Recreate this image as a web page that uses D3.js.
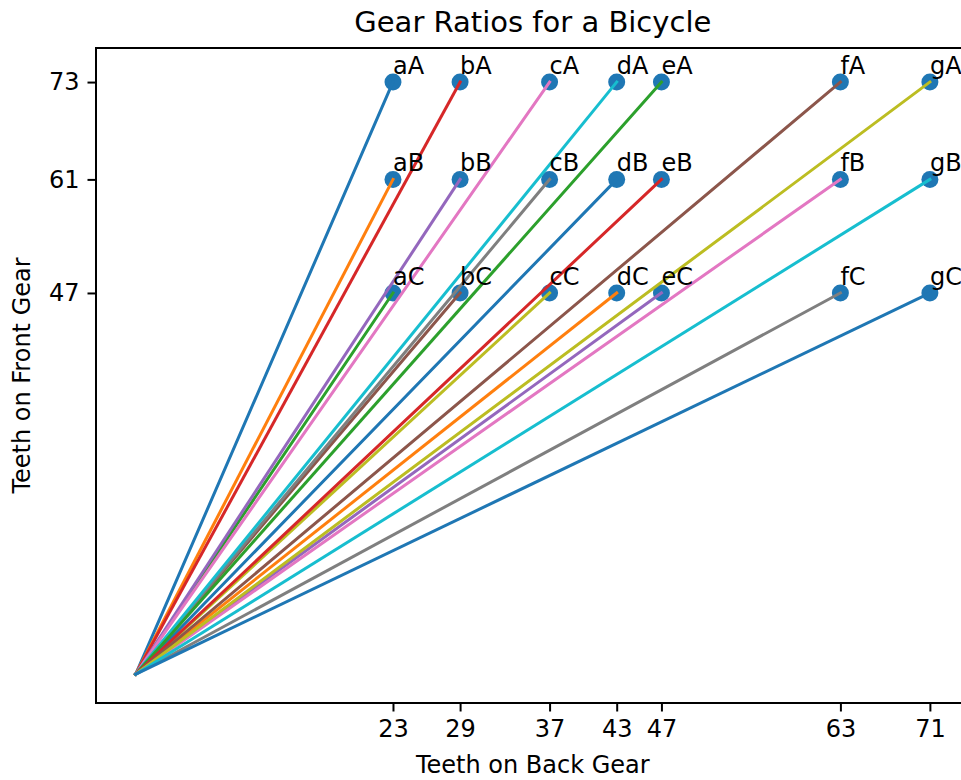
<!DOCTYPE html>
<html>
<head>
<meta charset="utf-8">
<script src="https://cdn.jsdelivr.net/npm/d3@7"></script>
<style>
  html, body { margin: 0; padding: 0; background: #fff; }
  svg { display: block; font-family: "DejaVu Sans", sans-serif; }
</style>
</head>
<body>
<svg id="chart" width="961" height="780"></svg>
<script>
// ---- data ----
const backGears = [23, 29, 37, 43, 47, 63, 71];
const backLabels = ["a", "b", "c", "d", "e", "f", "g"];
const frontGears = [73, 61, 47];
const frontLabels = ["A", "B", "C"];
const xTicks = [23, 29, 37, 43, 47, 63, 71];
const yTicks = [47, 61, 73];
const colors = ["#1f77b4", "#ff7f0e", "#2ca02c", "#d62728", "#9467bd",
                "#8c564b", "#e377c2", "#7f7f7f", "#bcbd22", "#17becf"];
const titleText = "Gear Ratios for a Bicycle";
const xLabelText = "Teeth on Back Gear";
const yLabelText = "Teeth on Front Gear";

(function () {
  // build combinations
  const combos = [];
  backGears.forEach((b, i) => {
    frontGears.forEach((f, j) => {
      combos.push({ back: b, front: f, label: backLabels[i] + frontLabels[j] });
    });
  });

  // ---- layout ----
  const svg = d3.select("#chart");
  const pL = 96, pR = 969.6, pT = 48, pB = 703;

  const x = d3.scaleLinear().domain([-3.55, 74.55]).range([pL, pR]);
  const y = d3.scaleLinear().domain([-3.55, 77.2]).range([pB, pT]);

  // scatter points (under lines)
  svg.append("g").selectAll("circle")
    .data(combos).join("circle")
    .attr("cx", d => x(d.back))
    .attr("cy", d => y(d.front))
    .attr("r", 8.5)
    .attr("fill", colors[0]);

  // lines from origin
  svg.append("g").selectAll("line")
    .data(combos).join("line")
    .attr("x1", x(0)).attr("y1", y(0))
    .attr("x2", d => x(d.back)).attr("y2", d => y(d.front))
    .attr("stroke", (d, i) => colors[i % colors.length])
    .attr("stroke-width", 3)
    .attr("stroke-linecap", "square");

  // annotations
  svg.append("g").selectAll("text")
    .data(combos).join("text")
    .attr("x", d => x(d.back))
    .attr("y", d => y(d.front + 1))
    .attr("font-size", 24)
    .attr("fill", "#000")
    .text(d => d.label);

  // spines
  svg.append("rect")
    .attr("x", pL).attr("y", pT)
    .attr("width", pR - pL).attr("height", pB - pT)
    .attr("fill", "none").attr("stroke", "#000").attr("stroke-width", 2);

  // x axis
  const xAxis = d3.axisBottom(x).tickValues(xTicks).tickSize(8.5).tickPadding(8).tickFormat(d3.format("d"));
  const gx = svg.append("g").attr("transform", `translate(0,${pB})`).call(xAxis);
  gx.select(".domain").remove();
  gx.selectAll(".tick line").attr("stroke", "#000").attr("stroke-width", 2);
  gx.selectAll(".tick text").attr("font-size", 24).attr("font-family", "DejaVu Sans").attr("fill", "#000");

  // y axis
  const yAxis = d3.axisLeft(y).tickValues(yTicks).tickSize(8.5).tickPadding(8).tickFormat(d3.format("d"));
  const gy = svg.append("g").attr("transform", `translate(${pL},0)`).call(yAxis);
  gy.select(".domain").remove();
  gy.selectAll(".tick line").attr("stroke", "#000").attr("stroke-width", 2);
  gy.selectAll(".tick text").attr("font-size", 24).attr("font-family", "DejaVu Sans").attr("fill", "#000");

  // title
  svg.append("text")
    .attr("x", (pL + pR) / 2).attr("y", 32)
    .attr("text-anchor", "middle")
    .attr("font-size", 29)
    .attr("fill", "#000")
    .text(titleText);

  // x label
  svg.append("text")
    .attr("x", (pL + pR) / 2).attr("y", 773)
    .attr("text-anchor", "middle")
    .attr("font-size", 24)
    .attr("fill", "#000")
    .text(xLabelText);

  // y label
  svg.append("text")
    .attr("transform", `translate(30,${(pT + pB) / 2}) rotate(-90)`)
    .attr("text-anchor", "middle")
    .attr("font-size", 24)
    .attr("fill", "#000")
    .text(yLabelText);
})();
</script>
</body>
</html>
